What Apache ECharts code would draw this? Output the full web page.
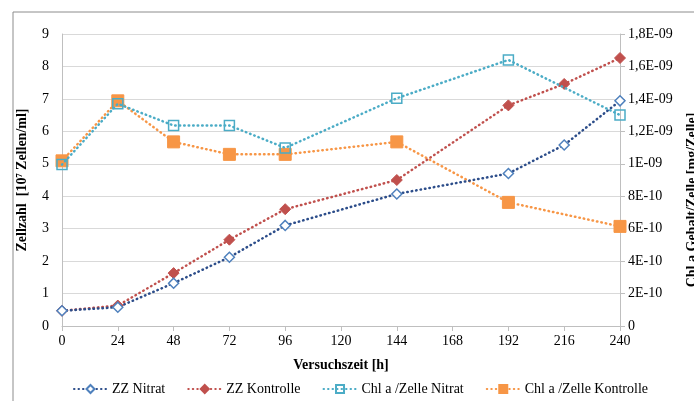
<!DOCTYPE html>
<html><head><meta charset="utf-8">
<script src="https://cdn.jsdelivr.net/npm/echarts@6/dist/echarts.min.js"></script>
<style>html,body{margin:0;padding:0;background:#fff}#c{width:694px;height:401px}</style>
</head><body><div id="c"></div>
<script>
const hours = [0, 24, 48, 72, 96, 144, 192, 216, 240];
const zzNitrat = [0.47, 0.58, 1.32, 2.12, 3.10, 4.07, 4.70, 5.58, 6.94];
const zzKontrolle = [0.47, 0.63, 1.63, 2.66, 3.60, 4.50, 6.80, 7.46, 8.26];
const chlHours = [0, 24, 48, 72, 96, 144, 192, 240];
const chlNitrat = [9.95e-10, 1.37e-9, 1.236e-9, 1.236e-9, 1.098e-9, 1.404e-9, 1.64e-9, 1.30e-9];
const chlKontrolle = [1.018e-9, 1.388e-9, 1.135e-9, 1.058e-9, 1.058e-9, 1.135e-9, 7.62e-10, 6.14e-10];
const rightTickLabels = ['0','2E-10','4E-10','6E-10','8E-10','1E-09','1,2E-09','1,4E-09','1,6E-09','1,8E-09'];
const seriesNames = ['ZZ Nitrat','ZZ Kontrolle','Chl a /Zelle Nitrat','Chl a /Zelle Kontrolle'];

const pair = (xs, ys) => xs.map((x, i) => [x, ys[i]]);
const F = 'Liberation Serif';
const chart = echarts.init(document.getElementById('c'));
const dot = [0.5, 4];
chart.setOption({
  animation: false,
  textStyle: {fontFamily: F},
  grid: {left: 62, right: 74, top: 34, bottom: 75},
  graphic: [
    {type: 'rect', shape: {x: 13, y: 12, width: 700, height: 400}, style: {fill: 'none', stroke: '#8c8c8c', lineWidth: 1}, silent: true},
    {type: 'text', x: 692, y: 200, rotation: Math.PI / 2, style: {text: 'Chl a Gehalt/Zelle [mg/Zelle]', font: 'bold 14px "Liberation Serif"', fill: '#000', align: 'center', verticalAlign: 'middle'}}
  ],
  xAxis: {
    type: 'value', min: 0, max: 240, interval: 24,
    name: 'Versuchszeit [h]', nameLocation: 'middle', nameGap: 32,
    nameTextStyle: {fontFamily: F, fontWeight: 'bold', fontSize: 14, color: '#000'},
    axisLine: {show: true, lineStyle: {color: '#bfbfbf'}},
    axisTick: {show: true, length: 5, lineStyle: {color: '#bfbfbf'}},
    axisLabel: {fontFamily: F, fontSize: 14, color: '#000', margin: 8},
    splitLine: {show: false}
  },
  yAxis: [
    {
      type: 'value', min: 0, max: 9, interval: 1, position: 'left',
      name: 'Zellzahl  [10⁷ Zellen/ml]', nameLocation: 'middle', nameGap: 33,
      nameTextStyle: {fontFamily: F, fontWeight: 'bold', fontSize: 14, color: '#000'},
      axisLine: {show: true, lineStyle: {color: '#bfbfbf'}},
      axisTick: {show: false},
      axisLabel: {fontFamily: F, fontSize: 14, color: '#000', margin: 13},
      splitLine: {show: true, lineStyle: {color: '#d9d9d9', width: 1}}
    },
    {
      type: 'value', min: 0, max: 1.8e-9, interval: 2e-10, position: 'right',
      axisLine: {show: true, lineStyle: {color: '#bfbfbf'}},
      axisTick: {show: true, length: 5, inside: false, lineStyle: {color: '#bfbfbf'}},
      axisLabel: {fontFamily: F, fontSize: 14, color: '#000', margin: 8,
        formatter: v => rightTickLabels[Math.round(v / 2e-10)] || ''},
      splitLine: {show: false}
    }
  ],
  legend: {
    bottom: 0, left: 68, itemGap: 22, itemWidth: 33, itemHeight: 10,
    textStyle: {fontFamily: F, fontSize: 14, color: '#000'},
    data: seriesNames
  },
  series: [
    {name: seriesNames[0], type: 'line', yAxisIndex: 0, data: pair(hours, zzNitrat),
     symbol: 'diamond', symbolSize: 10,
     lineStyle: {color: '#2c4d8a', width: 2.5, type: dot, cap: 'round'},
     itemStyle: {color: '#ffffff', borderColor: '#4f81bd', borderWidth: 1.5}, z: 4},
    {name: seriesNames[1], type: 'line', yAxisIndex: 0, data: pair(hours, zzKontrolle),
     symbol: 'diamond', symbolSize: 11,
     lineStyle: {color: '#c0504d', width: 2.5, type: dot, cap: 'round'},
     itemStyle: {color: '#c0504d', borderColor: '#c0504d', borderWidth: 1}, z: 3},
    {name: seriesNames[2], type: 'line', yAxisIndex: 1, data: pair(chlHours, chlNitrat),
     symbol: 'rect', symbolSize: 10,
     lineStyle: {color: '#4bacc6', width: 2.5, type: dot, cap: 'round'},
     itemStyle: {color: 'rgba(255,255,255,0)', borderColor: '#4bacc6', borderWidth: 1.5}, z: 5},
    {name: seriesNames[3], type: 'line', yAxisIndex: 1, data: pair(chlHours, chlKontrolle),
     symbol: 'rect', symbolSize: 12,
     lineStyle: {color: '#f79646', width: 2.5, type: dot, cap: 'round'},
     itemStyle: {color: '#f79646', borderColor: '#f79646', borderWidth: 1}, z: 2}
  ]
});
</script></body></html>
